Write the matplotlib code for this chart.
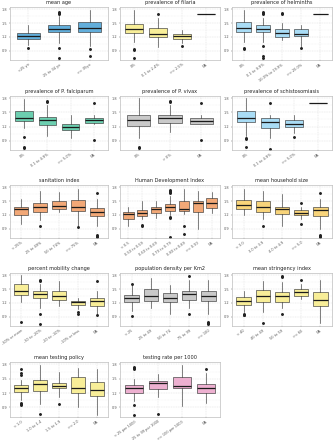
import matplotlib
matplotlib.use("Agg")
import matplotlib.pyplot as plt

# ---- data: per panel -> categories, [whisker_low, q1, median, q3, whisker_high], outliers
age_cats = ["<25 yo", "25 to 34 yo", ">= 35yo"]
age_stats = [[1.03, 1.16, 1.23, 1.29, 1.46], [1.06, 1.30, 1.38, 1.47, 1.65], [1.00, 1.30, 1.39, 1.53, 1.79]]
age_out = [[0.96], [1.74, 1.72, 1.70, 0.95, 0.75], [0.93, 0.78]]

fil_cats = ["0%", "0.1 to 2.4%", ">= 2.5%", "NA"]
fil_stats = [[1.10, 1.29, 1.37, 1.49, 1.79], [0.99, 1.19, 1.26, 1.39, 1.62], [1.06, 1.16, 1.23, 1.26, 1.35], [1.70, 1.70, 1.70, 1.70, 1.70]]
fil_out = [[0.94, 0.92, 0.75], [1.70], [1.01], []]

hel_cats = ["0%", "0.1 to 9.9%", "10.0% to 19.9%", ">= 20.0%", "NA"]
hel_stats = [[1.10, 1.30, 1.39, 1.53, 1.79], [1.10, 1.30, 1.37, 1.46, 1.62], [1.14, 1.19, 1.29, 1.37, 1.51], [0.99, 1.21, 1.27, 1.37, 1.46], [1.70, 1.70, 1.70, 1.70, 1.70]]
hel_out = [[0.96, 0.93], [1.74, 1.72, 1.70, 1.00, 0.78, 0.75], [1.72, 1.69], [0.96], []]

fal_cats = ["0%", "0.1 to 4.9%", ">= 5.0%", "NA"]
fal_stats = [[1.17, 1.31, 1.39, 1.53, 1.79], [0.99, 1.24, 1.33, 1.40, 1.66], [0.95, 1.12, 1.20, 1.25, 1.45], [1.25, 1.27, 1.33, 1.39, 1.45]]
fal_out = [[0.97, 0.77, 0.75], [1.74, 1.72], [], [1.70, 0.92]]

viv_cats = ["0%", "> 0%", "NA"]
viv_stats = [[0.95, 1.21, 1.34, 1.45, 1.80], [1.09, 1.27, 1.38, 1.45, 1.66], [1.25, 1.26, 1.31, 1.39, 1.45]]
viv_out = [[0.77, 0.75], [1.74, 1.72], [1.70, 0.92]]

sch_cats = ["0%", "0.1 to 4.9%", ">= 5.0%", "NA"]
sch_stats = [[0.99, 1.30, 1.38, 1.53, 1.80], [0.95, 1.17, 1.29, 1.39, 1.45], [1.07, 1.18, 1.25, 1.33, 1.45], [1.70, 1.70, 1.70, 1.70, 1.70]]
sch_out = [[0.96, 0.94, 0.77], [1.70, 0.73], [0.97], []]

san_cats = ["< 25%", "25 to 49%", "50 to 74%", ">= 75%", "NA"]
san_stats = [[1.00, 1.20, 1.33, 1.37, 1.55], [1.08, 1.27, 1.38, 1.45, 1.73], [1.26, 1.33, 1.40, 1.51, 1.70], [0.97, 1.29, 1.38, 1.53, 1.77], [0.95, 1.17, 1.26, 1.35, 1.55]]
san_out = [[], [0.96], [], [0.93], [1.68, 0.77, 0.75, 0.73]]

hdi_cats = ["< 0.5", "0.50 to 0.59", "0.60 to 0.69", "0.70 to 0.79", "0.80 to 0.89", ">= 0.90", "NA"]
hdi_stats = [[0.97, 1.11, 1.21, 1.27, 1.37], [1.11, 1.17, 1.24, 1.31, 1.51], [1.13, 1.24, 1.33, 1.38, 1.51], [1.20, 1.29, 1.38, 1.44, 1.62], [1.21, 1.28, 1.33, 1.51, 1.77], [0.90, 1.26, 1.47, 1.51, 1.71], [1.24, 1.35, 1.46, 1.57, 1.70]]
hdi_out = [[], [0.99, 0.97], [], [1.74, 1.72, 1.70, 1.68, 1.16, 1.13, 0.73], [0.95, 0.79], [], []]

hh_cats = ["< 3.0", "3.0 to 3.9", "4.0 to 4.9", ">= 5.0", "NA"]
hh_stats = [[1.19, 1.32, 1.42, 1.53, 1.77], [1.11, 1.27, 1.38, 1.51, 1.73], [0.97, 1.21, 1.33, 1.38, 1.65], [1.11, 1.19, 1.24, 1.31, 1.37], [0.90, 1.17, 1.31, 1.37, 1.55]]
hh_out = [[], [0.96], [], [1.46, 1.00], [1.68, 0.77, 0.75, 0.73]]

mob_cats = ["-30% or more", "-30 to -20%", "-20 to -10%", "-10% or less", "NA"]
mob_stats = [[1.21, 1.38, 1.46, 1.61, 1.80], [1.10, 1.30, 1.40, 1.46, 1.62], [1.14, 1.27, 1.36, 1.45, 1.67], [1.07, 1.16, 1.23, 1.25, 1.31], [0.96, 1.14, 1.25, 1.30, 1.45]]
mob_out = [[0.78], [1.70, 1.68, 0.97, 0.75], [], [1.00, 0.97], [1.68, 0.93]]

pop_cats = ["< 25", "25 to 49", "50 to 74", "75 to 99", ">= 100"]
pop_stats = [[1.03, 1.21, 1.30, 1.38, 1.58], [1.09, 1.25, 1.35, 1.51, 1.75], [0.97, 1.21, 1.31, 1.41, 1.58], [1.09, 1.27, 1.40, 1.45, 1.70], [0.96, 1.24, 1.35, 1.46, 1.69]]
pop_out = [[1.61, 0.92], [], [], [1.79, 0.95], [0.79, 0.77, 0.75]]

str_cats = ["< 40", "40 to 49", "50 to 59", ">= 60", "NA"]
str_stats = [[1.00, 1.16, 1.25, 1.32, 1.46], [1.00, 1.21, 1.36, 1.48, 1.67], [1.10, 1.23, 1.35, 1.43, 1.65], [1.29, 1.36, 1.43, 1.51, 1.62], [0.76, 1.14, 1.27, 1.43, 1.69]]
str_out = [[0.97, 0.94, 0.93], [0.77], [1.79, 1.76, 0.97], [1.70], []]

tp_cats = ["< 1.0", "1.0 to 1.4", "1.5 to 1.9", ">= 2.0", "NA"]
tp_stats = [[1.05, 1.23, 1.30, 1.37, 1.47], [0.97, 1.24, 1.39, 1.48, 1.79], [1.12, 1.30, 1.35, 1.42, 1.64], [0.91, 1.21, 1.30, 1.53, 1.72], [0.74, 1.13, 1.26, 1.43, 1.70]]
tp_out = [[1.70, 1.62, 1.58, 0.99, 0.97, 0.95], [0.77], [0.97], [], []]

tr_cats = ["< 25 per 1000", "25 to 99 per 1000", ">= 100 per 1000", "NA"]
tr_stats = [[1.03, 1.21, 1.30, 1.37, 1.50], [1.12, 1.28, 1.41, 1.46, 1.59], [0.93, 1.30, 1.35, 1.53, 1.79], [0.99, 1.21, 1.30, 1.39, 1.62]]
tr_out = [[1.75, 1.72, 1.70, 0.96, 0.74], [0.77], [], [1.70]]

titles = ["mean age", "prevalence of filaria", "prevalence of helminths",
          "prevalence of P. falciparum", "prevalence of P. vivax", "prevalence of schistosomiasis",
          "sanitation index", "Human Development Index", "mean household size",
          "percent mobility change", "population density per Km2", "mean stringency index",
          "mean testing policy", "testing rate per 1000"]
colors = ["#62AEDB", "#F8EE98", "#A9DCF5", "#6CCFB0", "#C9C9C9", "#A9DCF5",
          "#F2A877", "#F2A877", "#F8D47A", "#F8EE98", "#C9C9C9", "#F8EE98",
          "#F8EE98", "#EDB0D0"]
panels = [(age_cats, age_stats, age_out), (fil_cats, fil_stats, fil_out), (hel_cats, hel_stats, hel_out),
          (fal_cats, fal_stats, fal_out), (viv_cats, viv_stats, viv_out), (sch_cats, sch_stats, sch_out),
          (san_cats, san_stats, san_out), (hdi_cats, hdi_stats, hdi_out), (hh_cats, hh_stats, hh_out),
          (mob_cats, mob_stats, mob_out), (pop_cats, pop_stats, pop_out), (str_cats, str_stats, str_out),
          (tp_cats, tp_stats, tp_out), (tr_cats, tr_stats, tr_out)]

W, H = 334, 440
fig = plt.figure(figsize=(W / 100, H / 100), dpi=100)
col_x = [(10, 108), (120, 220), (232, 332)]
row_y = [(7, 60), (96, 150), (185, 238), (273, 326), (362, 417)]

for i, (cats, stats, outs) in enumerate(panels):
    r, c = divmod(i, 3)
    x0, x1 = col_x[c]
    y0, y1 = row_y[r]
    ax = fig.add_axes([x0 / W, 1 - y1 / H, (x1 - x0) / W, (y1 - y0) / H])
    bstats = []
    for cat, s, o in zip(cats, stats, outs):
        bstats.append(dict(label=cat, whislo=s[0], q1=s[1], med=s[2], q3=s[3], whishi=s[4], fliers=o))
    pos = list(range(len(cats)))
    ax.bxp(bstats, positions=pos, widths=0.75, patch_artist=True, showfliers=True,
           boxprops=dict(facecolor=colors[i], edgecolor="#3a3a3a", linewidth=0.45),
           medianprops=dict(color="#1a1a1a", linewidth=0.9),
           whiskerprops=dict(color="#3a3a3a", linewidth=0.45),
           capprops=dict(linewidth=0),
           flierprops=dict(marker="o", markersize=1.1, markerfacecolor="#222222",
                           markeredgecolor="#222222", linestyle="none"))
    ax.set_xlim(-0.6, len(cats) - 0.4)
    ax.set_ylim(0.70, 1.85)
    ax.set_yticks([0.9, 1.2, 1.5, 1.8])
    ax.set_yticklabels(["0.9", "1.2", "1.5", "1.8"])
    ax.set_yticks([1.05, 1.35, 1.65], minor=True)
    ax.set_xticks(pos)
    ax.set_xticklabels(cats, rotation=35, ha="right", rotation_mode="anchor")
    ax.tick_params(axis="both", labelsize=2.5, colors="#555555", length=1, width=0.3, pad=1)
    ax.tick_params(axis="y", which="minor", length=0)
    ax.grid(True, which="major", color="#d9d9d9", linewidth=0.35, linestyle=(0, (2, 1.5)))
    ax.grid(True, which="minor", axis="y", color="#ebebeb", linewidth=0.3, linestyle=(0, (2, 1.5)))
    ax.set_axisbelow(True)
    for sp in ax.spines.values():
        sp.set_color("#bdbdbd")
        sp.set_linewidth(0.5)
    ax.set_title(titles[i], fontsize=3.6, color="#222222", pad=2.5)

fig.savefig("out.png", dpi=100)
